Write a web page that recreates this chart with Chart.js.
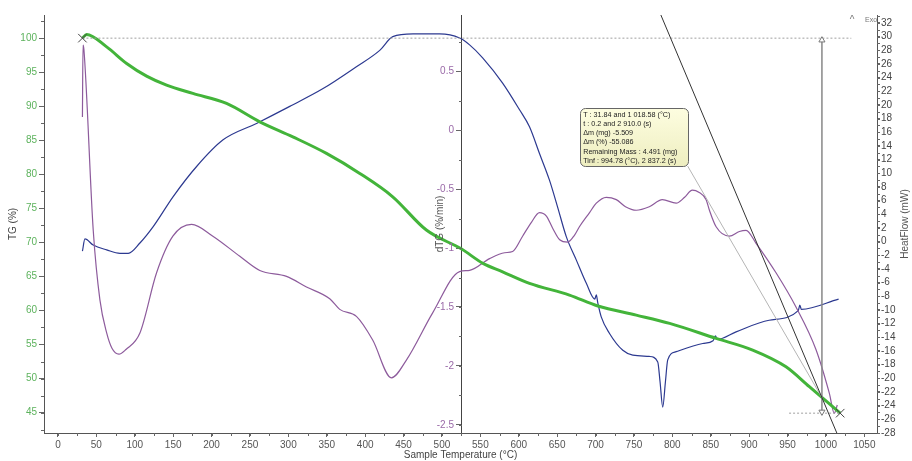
<!DOCTYPE html>
<html>
<head>
<meta charset="utf-8">
<script src="https://cdn.jsdelivr.net/npm/chart.js@4.4.0/dist/chart.umd.min.js"></script>
<style>
  html, body { margin: 0; padding: 0; background: #fff; }
</style>
</head>
<body>
<canvas id="tgaChart" width="912" height="461"></canvas>
<script>
// TG curve (%)
const tgTemp = [31.84, 37.3, 63.4, 89.4, 115.4, 141.4, 175.6, 219.5, 262.8, 305.8, 349.6, 393, 435.9, 479.7, 525.6, 553.4, 579, 614, 666, 703, 753, 796.5, 857, 904.6, 948, 978.4, 993.6, 1018.58];
const tgMass = [100, 100.54, 98.72, 96.28, 94.42, 93.1, 91.88, 90.41, 87.71, 85.5, 83.07, 80.13, 76.7, 71.81, 69.02, 66.92, 65.68, 63.98, 62.26, 60.65, 59.32, 58.1, 55.9, 54.19, 51.73, 48.8, 47.33, 44.914];

// dTG curve (%/min)
const dtgTemp = [31.84, 32.6, 33.8, 45.9, 54.6, 63.4, 70.3, 79.4, 88.5, 106.7, 128.4, 149.6, 174, 201.7, 236.8, 262.8, 297.6, 323.6, 353.9, 366.9, 388.6, 409.8, 434.2, 453.7, 487.9, 523, 536, 562, 581.6, 592, 605, 616.7, 627, 636, 644, 653.3, 663.8, 672.7, 679, 692.2, 701, 713.9, 727, 739, 753, 770, 787, 805, 816, 826, 835, 844, 848.3, 857, 874.3, 887.3, 896, 909, 935, 961, 987, 1004.4, 1010.9, 1014.8];
const dtgRate = [0.11, 0.72, 0.68, -0.85, -1.44, -1.72, -1.85, -1.9, -1.86, -1.72, -1.21, -0.9, -0.8, -0.9, -1.07, -1.19, -1.24, -1.33, -1.43, -1.52, -1.58, -1.78, -2.1, -1.95, -1.55, -1.2, -1.19, -1.09, -1.04, -1.03, -0.9, -0.78, -0.7, -0.73, -0.83, -0.93, -0.95, -0.89, -0.82, -0.7, -0.62, -0.57, -0.59, -0.65, -0.68, -0.65, -0.59, -0.62, -0.57, -0.51, -0.53, -0.59, -0.68, -0.82, -0.9, -0.86, -0.85, -0.96, -1.21, -1.5, -1.86, -2.23, -2.4, -2.33];
const dtgTicks = [-2.5, -2, -1.5, -1, -0.5, 0, 0.5];

// heat flow (mW)
const hfTemp = [31.84, 35.1, 45.9, 63.4, 80.7, 91.5, 106.7, 124, 150, 180.5, 215, 258.5, 301.8, 345.2, 388.6, 419, 436, 462.3, 497, 523, 536, 553, 579, 601, 614, 627, 640, 650.5, 662, 675, 688, 699, 701, 703, 707.4, 718, 735.5, 748.5, 770, 781, 784, 787.5, 791, 794, 805, 839.6, 853, 856, 859, 883, 926, 964, 966, 968, 1016.5];
const hfFlow = [-1.4, 0.4, -0.5, -1.2, -1.7, -1.7, -0.2, 2.2, 6.6, 11.0, 14.9, 17.3, 19.8, 22.4, 25.6, 28.0, 30.0, 30.4, 30.4, 29.8, 28.8, 26.9, 23.2, 19.3, 16.8, 12.9, 9.0, 5.1, 0.7, -2.7, -6.1, -8.4, -7.8, -9.0, -11.0, -13.4, -15.9, -16.6, -16.8, -17.6, -20.5, -24.2, -20.5, -17.3, -16.1, -14.9, -14.5, -13.8, -14.3, -13.2, -11.5, -10.1, -9.3, -9.9, -8.4];

// mass loss step analysis
const stepStart = [31.84, 100];
const stepEnd = [1018.58, 44.914];
const tInf = 994.78, tInfMass = 47.2, tangentSlope = -0.268;
const infoLines = [
  "T : 31.84 and 1 018.58 (°C)",
  "t : 0.2 and 2 910.0 (s)",
  "Δm (mg) -5.509",
  "Δm (%) -55.086",
  "Remaining Mass : 4.491 (mg)",
  "Tinf : 994.78 (°C), 2 837.2 (s)"
];

const xy = (xs, ys) => xs.map((x, i) => ({x: x, y: ys[i]}));

Chart.defaults.font.family = "'Liberation Sans', Arial, sans-serif";
Chart.defaults.font.size = 10;

// box of the tooltip, in T / TG units
const box = {t1: 680, t2: 820, m1: 89.7, m2: 81.2};
const dtgAxisAt = 525.6;

const extras = {
  id: 'extras',
  afterDraw(chart) {
    const {ctx, chartArea: ca, scales} = chart;
    const sx = scales.x, tg = scales.yTG, dtg = scales.yDTG, hf = scales.yHF;
    ctx.save();
    ctx.strokeStyle = '#666';
    ctx.lineWidth = 1;
    const minor = (scale, step, fn) => {
      for (let v = Math.ceil(scale.min / step) * step; v <= scale.max + 1e-9; v += step) fn(Math.round(scale.getPixelForValue(v)) + 0.5);
    };
    const dx = Math.round(sx.getPixelForValue(dtgAxisAt));
    ctx.beginPath();
    minor(sx, 25, p => { ctx.moveTo(p, ca.bottom); ctx.lineTo(p, ca.bottom + 3); });
    minor(tg, 2.5, p => { ctx.moveTo(ca.left, p); ctx.lineTo(ca.left - 3, p); });
    minor(dtg, 0.25, p => { ctx.moveTo(dx, p); ctx.lineTo(dx - 3, p); });
    minor(hf, 1, p => { ctx.moveTo(ca.right, p); ctx.lineTo(ca.right + 3, p); });
    ctx.stroke();

    // dTG tick labels, left of the middle axis
    ctx.font = "10px 'Liberation Sans', Arial, sans-serif";
    ctx.fillStyle = '#9a6aa8';
    ctx.textAlign = 'right';
    ctx.textBaseline = 'middle';
    dtgTicks.forEach(v => ctx.fillText(String(v), dx - 8, dtg.getPixelForValue(v)));

    // rotated titles
    ctx.fillStyle = '#555';
    ctx.textAlign = 'center';
    const midY = (ca.top + ca.bottom) / 2;
    [[dx - 22, 'dTG (%/min)'], [ca.right + 28, 'HeatFlow (mW)']].forEach(([px, txt]) => {
      ctx.save();
      ctx.translate(px, midY);
      ctx.rotate(-Math.PI / 2);
      ctx.fillText(txt, 0, 0);
      ctx.restore();
    });

    // Exo marker
    ctx.fillStyle = '#777';
    ctx.fillText('^', ca.right - 25, ca.top + 5);
    ctx.font = "7px 'Liberation Sans', Arial, sans-serif";
    ctx.textAlign = 'left';
    ctx.fillText('Exo', ca.right - 12, ca.top + 5);

    // analysis tooltip
    const bx1 = sx.getPixelForValue(box.t1), bx2 = sx.getPixelForValue(box.t2);
    const by1 = tg.getPixelForValue(box.m1), by2 = tg.getPixelForValue(box.m2);
    const g = ctx.createLinearGradient(0, by1, 0, by2);
    g.addColorStop(0, '#fdfde0');
    g.addColorStop(1, '#eeeec0');
    ctx.beginPath();
    ctx.roundRect(Math.round(bx1) + 0.5, Math.round(by1) + 0.5, Math.round(bx2 - bx1), Math.round(by2 - by1), 5);
    ctx.fillStyle = g;
    ctx.fill();
    ctx.strokeStyle = '#666';
    ctx.stroke();
    ctx.fillStyle = '#222';
    ctx.font = "7.2px 'Liberation Sans', Arial, sans-serif";
    infoLines.forEach((s, i) => ctx.fillText(s, bx1 + 3, by1 + 6.5 + i * 9.2));
    ctx.restore();
  }
};

new Chart("tgaChart", {
  type: 'line',
  data: {
    datasets: [
      { data: xy([stepStart[0], stepEnd[0]], [stepStart[1], stepEnd[1]]), yAxisID: 'yTG', showLine: false,
        pointStyle: 'crossRot', pointRadius: 6, pointBorderColor: '#444', pointBorderWidth: 1 },
      { data: [tInf - 210, tInf + 20].map(t => ({x: t, y: tInfMass + tangentSlope * (t - tInf)})), yAxisID: 'yTG',
        borderColor: '#333', borderWidth: 1, pointRadius: 0 },
      { data: [{x: box.t2, y: box.m2}, {x: tInf, y: tInfMass}], yAxisID: 'yTG',
        borderColor: '#b5b5b5', borderWidth: 1, pointRadius: 0 },
      { data: [{x: tInf, y: 99.7}, {x: tInf, y: 45.1}], yAxisID: 'yTG',
        borderColor: '#888', borderWidth: 1.5, pointStyle: 'triangle', pointRotation: [0, 180],
        pointRadius: 3.5, pointBackgroundColor: '#fff', pointBorderColor: '#777', pointBorderWidth: 1 },
      { data: [{x: stepStart[0], y: stepStart[1]}, {x: 1033, y: stepStart[1]}], yAxisID: 'yTG',
        borderColor: '#a0a0a0', borderWidth: 1, borderDash: [2, 2], pointRadius: 0 },
      { data: [{x: 952, y: stepEnd[1]}, {x: stepEnd[0], y: stepEnd[1]}], yAxisID: 'yTG',
        borderColor: '#a0a0a0', borderWidth: 1, borderDash: [2, 2], pointRadius: 0 },
      { label: 'TG', data: xy(tgTemp, tgMass), yAxisID: 'yTG', borderColor: '#43b43a', borderWidth: 3,
        pointRadius: 0, cubicInterpolationMode: 'monotone' },
      { label: 'dTG', data: xy(dtgTemp, dtgRate), yAxisID: 'yDTG', borderColor: '#8d5b9c', borderWidth: 1.2,
        pointRadius: 0, cubicInterpolationMode: 'monotone' },
      { label: 'HeatFlow', data: xy(hfTemp, hfFlow), yAxisID: 'yHF', borderColor: '#2c3990', borderWidth: 1.2,
        pointRadius: 0, cubicInterpolationMode: 'monotone' }
    ]
  },
  options: {
    responsive: false,
    animation: false,
    layout: { padding: { top: 15, left: 0, right: 0, bottom: 0 } },
    plugins: { legend: { display: false }, tooltip: { enabled: false } },
    scales: {
      x: {
        type: 'linear', min: -18.2, max: 1066.5,
        ticks: { stepSize: 50, includeBounds: false, autoSkip: false, maxRotation: 0, color: '#555', padding: 2,
          callback: v => String(v) },
        grid: { drawOnChartArea: false, tickLength: 4, color: '#666' },
        border: { color: '#555' },
        title: { display: true, text: 'Sample Temperature (°C)', color: '#444', padding: { top: 0, bottom: 0 } },
        afterFit: s => { s.height = 28; }
      },
      yTG: {
        type: 'linear', position: 'left', min: 42.0, max: 103.4,
        ticks: { stepSize: 5, includeBounds: false, autoSkip: false, color: '#5cb25c', padding: 2 },
        grid: { drawOnChartArea: false, tickLength: 5, color: '#666' },
        border: { color: '#555' },
        title: { display: true, text: 'TG (%)', color: '#444', padding: { top: 7, bottom: 0 } },
        afterFit: s => { s.width = 44; }
      },
      yDTG: {
        type: 'linear', position: { x: dtgAxisAt }, min: -2.568, max: 0.975,
        ticks: { stepSize: 0.5, includeBounds: false, autoSkip: false, display: false },
        grid: { drawOnChartArea: false, tickLength: 5, color: '#666' },
        border: { color: '#444' }
      },
      yHF: {
        type: 'linear', position: 'right', min: -28, max: 33.17,
        ticks: { stepSize: 2, includeBounds: false, autoSkip: false, color: '#444', padding: 1 },
        grid: { drawOnChartArea: false, tickLength: 3, color: '#666' },
        border: { color: '#555' },
        afterFit: s => { s.width = 35; }
      }
    }
  },
  plugins: [extras]
});
</script>
</body>
</html>
